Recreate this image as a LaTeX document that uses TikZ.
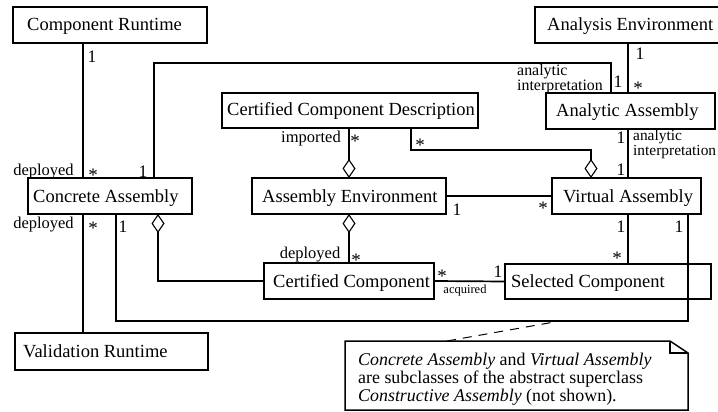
\documentclass[tikz,border=0pt]{standalone}
\usepackage{fontspec}
\setmainfont{Liberation Serif}
\usetikzlibrary{arrows.meta}
% multiplicity star, glyph centred on the node's base point
\newcommand\mstar{\smash{\raisebox{-0.52em}{*}}}

\begin{document}
\begin{tikzpicture}[x=1pt,y=-1pt,
  box/.style={draw, line width=1.7pt, inner sep=0pt, outer sep=0pt, anchor=north west},
  boxtext/.style={anchor=base west, inner sep=0pt, font=\fontsize{18.5}{20}\selectfont},
  lab/.style={anchor=base, inner sep=0pt, font=\fontsize{16.5}{18}\selectfont},
  smalllab/.style={anchor=base, inner sep=0pt, font=\fontsize{12.5}{14}\selectfont},
  twolines/.style={anchor=north west, inner sep=0pt, align=left, font=\fontsize{15.9}{12}\selectfont},
  one/.style={anchor=base, inner sep=0pt, font=\fontsize{17.5}{19}\selectfont},
  star/.style={anchor=base, inner sep=0pt, font=\fontsize{19}{19}\selectfont},
  conn/.style={line width=1.7pt},
  agg/.style={conn, {Diamond[open,length=19pt,width=13pt,line width=1.1pt]}-},
  notedash/.style={line width=1pt, dash pattern=on 9pt off 7pt}
]
\useasboundingbox (0,0) rectangle (718,412);

% ---- classes ----
\node[box, minimum width=194pt, minimum height=36pt] (cr)   at (13,7)   {};
\node[box, minimum width=187pt, minimum height=36pt] (ae)   at (535,7)  {};
\node[box, minimum width=256pt, minimum height=35pt] (ccd)  at (222,93) {};
\node[box, minimum width=169pt, minimum height=36pt] (aa)   at (546,93) {};
\node[box, minimum width=164pt, minimum height=36pt] (ca)   at (28,178) {};
\node[box, minimum width=194pt, minimum height=36pt] (aenv) at (252,178) {};
\node[box, minimum width=149pt, minimum height=36pt] (va)   at (552,178) {};
\node[box, minimum width=170pt, minimum height=36pt] (cc)   at (264,263) {};
\node[box, minimum width=206pt, minimum height=35pt] (sc)   at (505,264) {};
\node[box, minimum width=193pt, minimum height=37pt] (vr)   at (15,333) {};

\node[boxtext] (crt)   at (27,31)   {Component Runtime};
\node[boxtext] (aet)   at (547,31)  {Analysis Environment};
\node[boxtext] (ccdt)  at (227,116) {Certified Component Description};
\node[boxtext] (aat)   at (556,117) {Analytic Assembly};
\node[boxtext] (cat)   at (33,202)  {Concrete Assembly};
\node[boxtext] (aenvt) at (262,202) {Assembly Environment};
\node[boxtext] (vat)   at (563,202) {Virtual Assembly};
\node[boxtext] (cct)   at (273,287) {Certified Component};
\node[boxtext] (sct)   at (511,287) {Selected Component};
\node[boxtext] (vrt)   at (23,357)  {Validation Runtime};

% ---- routing guides ----
\coordinate (c83)  at (83,0);
\coordinate (c116) at (116,0);
\coordinate (c154) at (154,0);
\coordinate (c158) at (158,0);
\coordinate (c349) at (349,0);
\coordinate (c411) at (411,0);
\coordinate (c591) at (591,0);
\coordinate (c611) at (611,0);
\coordinate (c628) at (628,0);
\coordinate (c688) at (688,0);
\coordinate (r63)  at (0,63);
\coordinate (r150) at (0,150);
\coordinate (r321) at (0,321);

% ---- associations ----
\draw[conn] (cr.south -| c83) -- (ca.north -| c83);
\draw[conn] (ca.south -| c83) -- (vr.north -| c83);
\draw[conn] (ca.north -| c154) -- (c154 |- r63) -- (c611 |- r63) -- (aa.north -| c611);
\draw[conn] (ae.south -| c628) -- (aa.north -| c628);
\draw[conn] (aa.south -| c628) -- (va.north -| c628);
\draw[agg]  (aenv.north -| c349) -- (ccd.south -| c349);
\draw[agg]  (va.north -| c591) -- (c591 |- r150) -- (c411 |- r150) -- (ccd.south -| c411);
\draw[conn] (aenv.east) -- (va.west);
\draw[agg]  (aenv.south -| c349) -- (cc.north -| c349);
\draw[agg]  (ca.south -| c158) -- (c158 |- cc.west) -- (cc.west);
\draw[conn] (cc.east) -- (sc.west);
\draw[conn] (va.south -| c628) -- (sc.north -| c628);
\draw[conn] (ca.south -| c116) -- (c116 |- r321) -- (c688 |- r321) -- (va.south -| c688);

% ---- role names ----
\node[lab] (dep1) at (43.5,175) {deployed};
\node[lab] (dep2) at (43.5,228) {deployed};
\node[lab] (dep3) at (310,258)  {deployed};
\node[lab] (imp)  at (311,142)  {imported};
\node[smalllab] (acq) at (465,293) {acquired};
\node[twolines] (ai1) at (517,64)  {analytic\\interpretation};
\node[twolines, font=\fontsize{15.4}{12}\selectfont] (ai2) at (633,130) {analytic\\interpretation};

% ---- multiplicities ----
\node[one] (m1)  at (92,63)   {1};
\node[one] (m2)  at (143,177) {1};
\node[one] (m3)  at (123,232) {1};
\node[one] (m4)  at (457,215) {1};
\node[one] (m5)  at (498,277) {1};
\node[one] (m6)  at (618,88)  {1};
\node[one] (m7)  at (640,60)  {1};
\node[one] (m8)  at (621,143) {1};
\node[one] (m9)  at (621,175) {1};
\node[one] (m10) at (621,232) {1};
\node[one] (m11) at (679,232) {1};

\node[star] (s1) at (93,172)  {\mstar};
\node[star] (s2) at (93,225)  {\mstar};
\node[star] (s3) at (355,138) {\mstar};
\node[star] (s4) at (420,142) {\mstar};
\node[star] (s5) at (543,205) {\mstar};
\node[star] (s6) at (356,257) {\mstar};
\node[star] (s7) at (442,273) {\mstar};
\node[star] (s8) at (638,85)  {\mstar};
\node[star] (s9) at (617,255) {\mstar};

% ---- note ----
\draw[line width=1.5pt] (345,341) -- (670,341) -- (688,353) -- (688,410) -- (345,410) -- cycle;
\draw[line width=1.1pt] (670,341) -- (670,353) -- (688,353);
\node[anchor=north west, inner sep=0pt, align=left, font=\fontsize{17.9}{18}\selectfont] (note) at (358,353)
  {\textit{Concrete Assembly} and \textit{Virtual Assembly}\\
   are subclasses of the abstract superclass\\
   \textit{Constructive Assembly} (not shown).};
\coordinate (notetop) at (447,341);
\coordinate (noteref) at (560,321);
\draw[notedash] (notetop) -- (noteref);
\end{tikzpicture}
\end{document}
